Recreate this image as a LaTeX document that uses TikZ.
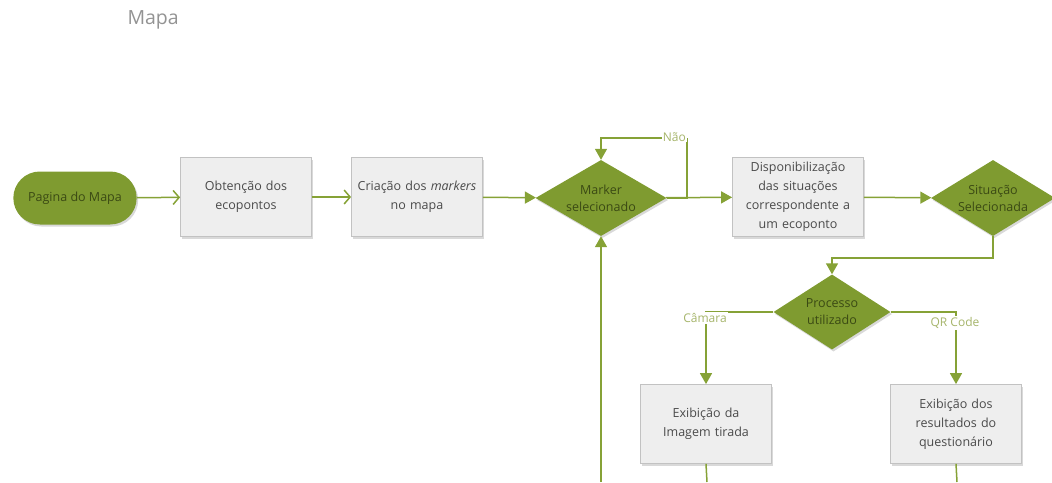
\documentclass[tikz,border=0pt]{standalone}
\usepackage{fontspec}
\setmainfont{Open Sans}
\usetikzlibrary{shapes.geometric,shapes.misc,arrows.meta,shadows}
\definecolor{olive}{HTML}{7F9B30}
\definecolor{oliveline}{HTML}{86A236}
\definecolor{labelgreen}{HTML}{A6B56B}
\definecolor{boxfill}{HTML}{EEEEEE}
\definecolor{boxline}{HTML}{C2C2C2}
\definecolor{txt}{HTML}{4A4A4A}
\definecolor{dtxt}{HTML}{3B4A14}
\tikzset{
  shade/.style={drop shadow={shadow xshift=1.5pt,shadow yshift=-2pt,opacity=0.25,fill=black!60}},
  procbox/.style={rectangle,draw=boxline,fill=boxfill,line width=0.8pt,minimum width=131pt,minimum height=79pt,
    text width=129pt,align=center,font=\fontsize{12.5}{19}\selectfont,text=txt,inner sep=1pt,shade},
  terminal/.style={rounded rectangle,fill=olive,minimum width=130pt,minimum height=53pt,
    font=\fontsize{12.5}{19}\selectfont,text=dtxt,shade},
  decision/.style={diamond,fill=olive,minimum width=131pt,minimum height=76pt,inner sep=-3pt,aspect=1.7,
    align=center,font=\fontsize{12.5}{17}\selectfont,text=dtxt,shade},
  flow/.style={draw=oliveline,line width=1.5pt,-{Triangle[length=11pt,width=12pt]}},
  chev/.style={draw=oliveline,line width=1.5pt,-{Straight Barb[length=6pt,width=14pt,line width=1.5pt]}},
  plain/.style={draw=oliveline,line width=1.5pt},
  branch/.style={text=labelgreen,font=\fontsize{12}{14}\selectfont,fill=white,inner sep=1pt}
}
\begin{document}
\begin{tikzpicture}[x=1pt,y=-1pt]
\useasboundingbox (0,0) rectangle (1052,482);
\node[text=gray!85,font=\fontsize{19.5}{22}\selectfont,anchor=west] (title) at (124,20) {Mapa};

\node[terminal] (start) at (75,198) {Pagina do Mapa};
\node[procbox] (obt) at (246,197) {Obtenção dos\\ecopontos};
\node[procbox] (cri) at (417,197) {Criação dos \textit{markers}\\no mapa};
\node[decision] (msel) at (601,198) {Marker\\selecionado};
\node[procbox] (disp) at (798,197) {Disponibilização\\das situações\\correspondente a\\um ecoponto};
\node[decision,minimum width=124pt,aspect=1.63] (ssel) at (993,198) {Situação\\Selecionada};
\node[decision,minimum width=117pt,minimum height=75pt,aspect=1.56] (proc) at (832,312) {Processo\\utilizado};
\node[procbox] (img) at (706,424) {Exibição da\\Imagem tirada};
\node[procbox] (quest) at (956,424) {Exibição dos\\resultados do\\questionário};

\coordinate (loopR) at (687,138);
\coordinate (bottomL) at (601,482);
\coordinate (bottomI) at (707,482);
\coordinate (bottomQ) at (957,482);

\draw[chev] (start) -- (obt);
\draw[chev] (obt) -- (cri);
\draw[flow] (cri) -- (msel);
\draw[flow] (msel) -- (disp);
\draw[plain] (msel.east) -| (loopR);
\draw[flow] (loopR) -- (msel.north |- loopR) -- (msel.north);
\node[branch,anchor=east] (nao) at (687,137) {Não};
\draw[flow] (disp) -- (ssel);
\draw[flow] (ssel.south) |- (832,258) -- (proc.north);
\draw[flow] (proc.west) -| (img.north);
\draw[flow] (proc.east) -| (quest.north);
\node[branch] (cam) at (705,318) {Câmara};
\node[branch] (qr) at (955,323) {QR Code};
\draw[plain] (img.south) -- (bottomI);
\draw[plain] (quest.south) -- (bottomQ);
\draw[flow] (bottomL) -- (msel.south);
\end{tikzpicture}
\end{document}
